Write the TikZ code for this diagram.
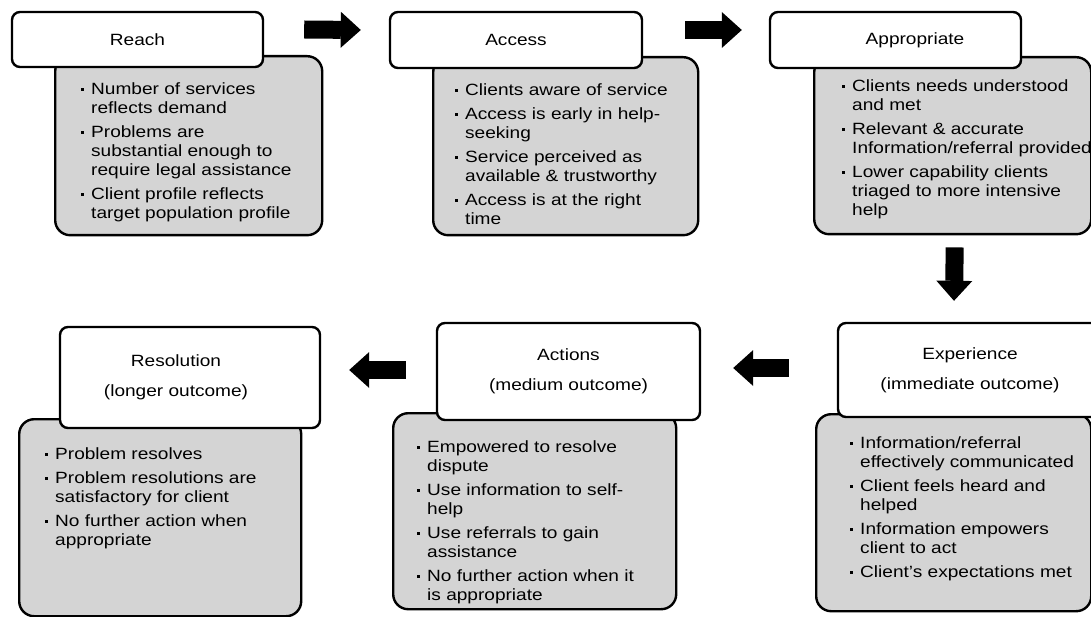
\documentclass[tikz,border=0pt]{standalone}
\usepackage{fontspec}
\usepackage{tikz}
\usetikzlibrary{arrows.meta}
\newfontfamily\boxfont[FakeStretch=1.17]{Liberation Sans}
\definecolor{boxgrey}{RGB}{212,212,212}
\newcommand{\bul}{\makebox[10pt][l]{\rule[3.5pt]{3pt}{3pt}}}
\newcommand{\ind}{\hspace*{10pt}}

\begin{document}
\begin{tikzpicture}[x=1pt,y=-1pt,
    body/.style={draw,line width=2.4pt,fill=boxgrey,rounded corners=15pt,anchor=north west,inner sep=0},
    title/.style={draw,line width=2.4pt,fill=white,rounded corners=8pt,align=center,inner sep=0,font=\boxfont\fontsize{16.3}{19}\selectfont},
    items/.style={anchor=north west,inner sep=0,align=left,font=\boxfont\fontsize{16.3}{19}\selectfont},
    blockarrow/.style={line width=18pt,-{Triangle[length=20pt,width=36pt,line width=0pt]}}]
    \clip (0,0) rectangle (1091,617);
    \fill[white] (0,0) rectangle (1091,617);

    \node[body,minimum width=267pt,minimum height=179pt] (reachbody) at (54,55) {};
    \node[body,minimum width=265pt,minimum height=178pt] (accbody) at (432,56) {};
    \node[body,minimum width=277pt,minimum height=177pt] (appbody) at (813,56) {};
    \node[body,minimum width=282pt,minimum height=197pt] (resbody) at (18,418) {};
    \node[body,minimum width=283pt,minimum height=196pt] (actbody) at (392,412) {};
    \node[body,minimum width=275pt,minimum height=197pt] (expbody) at (815,413) {};

    \node[title,minimum width=251pt,minimum height=55pt] (reachtitle) at (137.5,39.5) {Reach};
    \node[title,minimum width=252pt,minimum height=56pt] (acctitle) at (516,40) {Access};
    \node[title,minimum width=251pt,minimum height=56pt] (apptitle) at (895.5,40) {\hspace*{39pt}Appropriate};
    \node[title,minimum width=260pt,minimum height=101pt] (restitle) at (190,377.5) {\hspace*{-28pt}Resolution\\[11pt]\hspace*{-28pt}(longer outcome)};
    \node[title,minimum width=263pt,minimum height=97pt] (acttitle) at (568.5,371.5) {Actions\\[11pt](medium outcome)};
    \node[title,minimum width=264pt,minimum height=94pt] (exptitle) at (970,370) {Experience\\[11pt](immediate outcome)};

    \node[items] (reachlist) at (81,82) {\bul Number of services\\\ind reflects demand\\[5pt]\bul Problems are\\\ind substantial enough to\\\ind require legal assistance\\[5pt]\bul Client profile reflects\\\ind target population profile};
    \node[items] (acclist) at (455,83) {\bul Clients aware of service\\[5pt]\bul Access is early in help-\\\ind seeking\\[5pt]\bul Service perceived as\\\ind available \& trustworthy\\[5pt]\bul Access is at the right\\\ind time};
    \node[items] (applist) at (842,79) {\bul Clients needs understood\\\ind and met\\[5pt]\bul Relevant \& accurate\\\ind Information/referral provided\\[5pt]\bul Lower capability clients\\\ind triaged to more intensive\\\ind help};
    \node[items] (reslist) at (45,447) {\bul Problem resolves\\[5pt]\bul Problem resolutions are\\\ind satisfactory for client\\[5pt]\bul No further action when\\\ind appropriate};
    \node[items] (actlist) at (417,440) {\bul Empowered to resolve\\\ind dispute\\[5pt]\bul Use information to self-\\\ind help\\[5pt]\bul Use referrals to gain\\\ind assistance\\[5pt]\bul No further action when it\\\ind is appropriate};
    \node[items] (explist) at (850,436) {\bul Information/referral\\\ind effectively communicated\\[5pt]\bul Client feels heard and\\\ind helped\\[5pt]\bul Information empowers\\\ind client to act\\[5pt]\bul Client’s expectations met};

    \draw[blockarrow] ([shift={(40,-10)}]reachtitle.east) -- ([shift={(-28,-10)}]acctitle.west);
    \draw[blockarrow] ([shift={(42,-10)}]acctitle.east) -- ([shift={(-27,-10)}]apptitle.west);
    \draw[blockarrow] ([shift={(2,12)}]appbody.south) -- ([shift={(-16,-21)}]exptitle.north);
    \draw[blockarrow] ([shift={(-48,-2)}]exptitle.west) -- ([shift={(32,-3.5)}]acttitle.east);
    \draw[blockarrow] ([shift={(-30,-1.5)}]acttitle.west) -- ([shift={(28,-7.5)}]restitle.east);
\end{tikzpicture}
\end{document}
